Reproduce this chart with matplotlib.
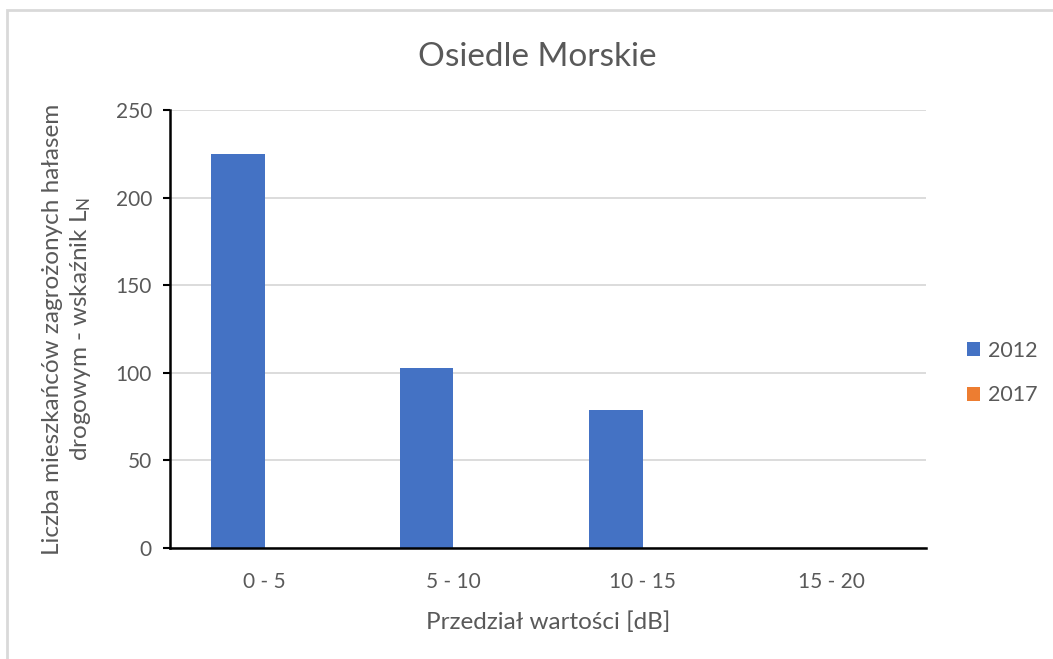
import matplotlib.pyplot as plt
from matplotlib.patches import Patch, Rectangle
import numpy as np

plt.rcParams['font.family'] = ['Lato', 'DejaVu Sans']
plt.rcParams['mathtext.default'] = 'regular'

kategorie = ['0 - 5', '5 - 10', '10 - 15', '15 - 20']
serie = ['2012', '2017']
wart_2012 = [225, 103, 79, 0]
wart_2017 = [0, 0, 0, 0]
kolory = ['#4472C4', '#ED7D31']

szary = '#595959'

fig = plt.figure(figsize=(10.53, 6.59), dpi=100)
ax = fig.add_axes([170/1053, 1 - 548/659, 756/1053, 438/659])

x = np.arange(len(kategorie))
szer = 0.284
ax.bar(x - szer/2, wart_2012, szer, color=kolory[0], zorder=3)
ax.bar(x + szer/2, wart_2017, szer, color=kolory[1], zorder=3)

ax.set_xlim(-0.5, len(kategorie) - 0.5)
ax.set_ylim(0, 250)
ax.set_yticks([0, 50, 100, 150, 200, 250])
ax.set_xticks(x)
ax.set_xticklabels(kategorie)
ax.yaxis.grid(True, color='#d9d9d9', linewidth=1.3, zorder=0)
ax.set_axisbelow(True)

for s in ['top', 'right']:
    ax.spines[s].set_visible(False)
ax.spines['left'].set_color('black')
ax.spines['left'].set_linewidth(1.8)
ax.spines['bottom'].set_color('black')
ax.spines['bottom'].set_linewidth(1.8)
ax.spines['bottom'].set_zorder(4)

ax.tick_params(axis='y', length=5, width=1.5, color='black', labelsize=15,
               labelcolor=szary, pad=8)
ax.tick_params(axis='x', length=0, labelsize=15, labelcolor=szary, pad=17)

ax.set_xlabel('Przedział wartości [dB]', fontsize=17.5, color=szary, labelpad=14)
ax.set_ylabel('Liczba mieszkańców zagrożonych hałasem\ndrogowym - wskaźnik $L_N$',
              fontsize=17.5, color=szary, labelpad=16, linespacing=1.3)
fig.text(537/1053, 1 - 57/659, 'Osiedle Morskie', fontsize=24, color=szary,
         ha='center', va='center')

uchwyty = [Patch(facecolor=k) for k in kolory]
fig.legend(uchwyty, serie, loc='center left', bbox_to_anchor=(948/1053, 1 - 373/659),
           frameon=False, fontsize=15.5, labelcolor=szary, handlelength=0.6,
           handleheight=0.6, handletextpad=0.35, labelspacing=1.15)

# ramka wykresu
fig.patches.append(Rectangle((7/1053, -0.05), 1.1, 1 - 10/659 + 0.05,
                             transform=fig.transFigure, fill=False,
                             edgecolor='#d9d9d9', linewidth=2))

plt.savefig('out.png', dpi=100)
